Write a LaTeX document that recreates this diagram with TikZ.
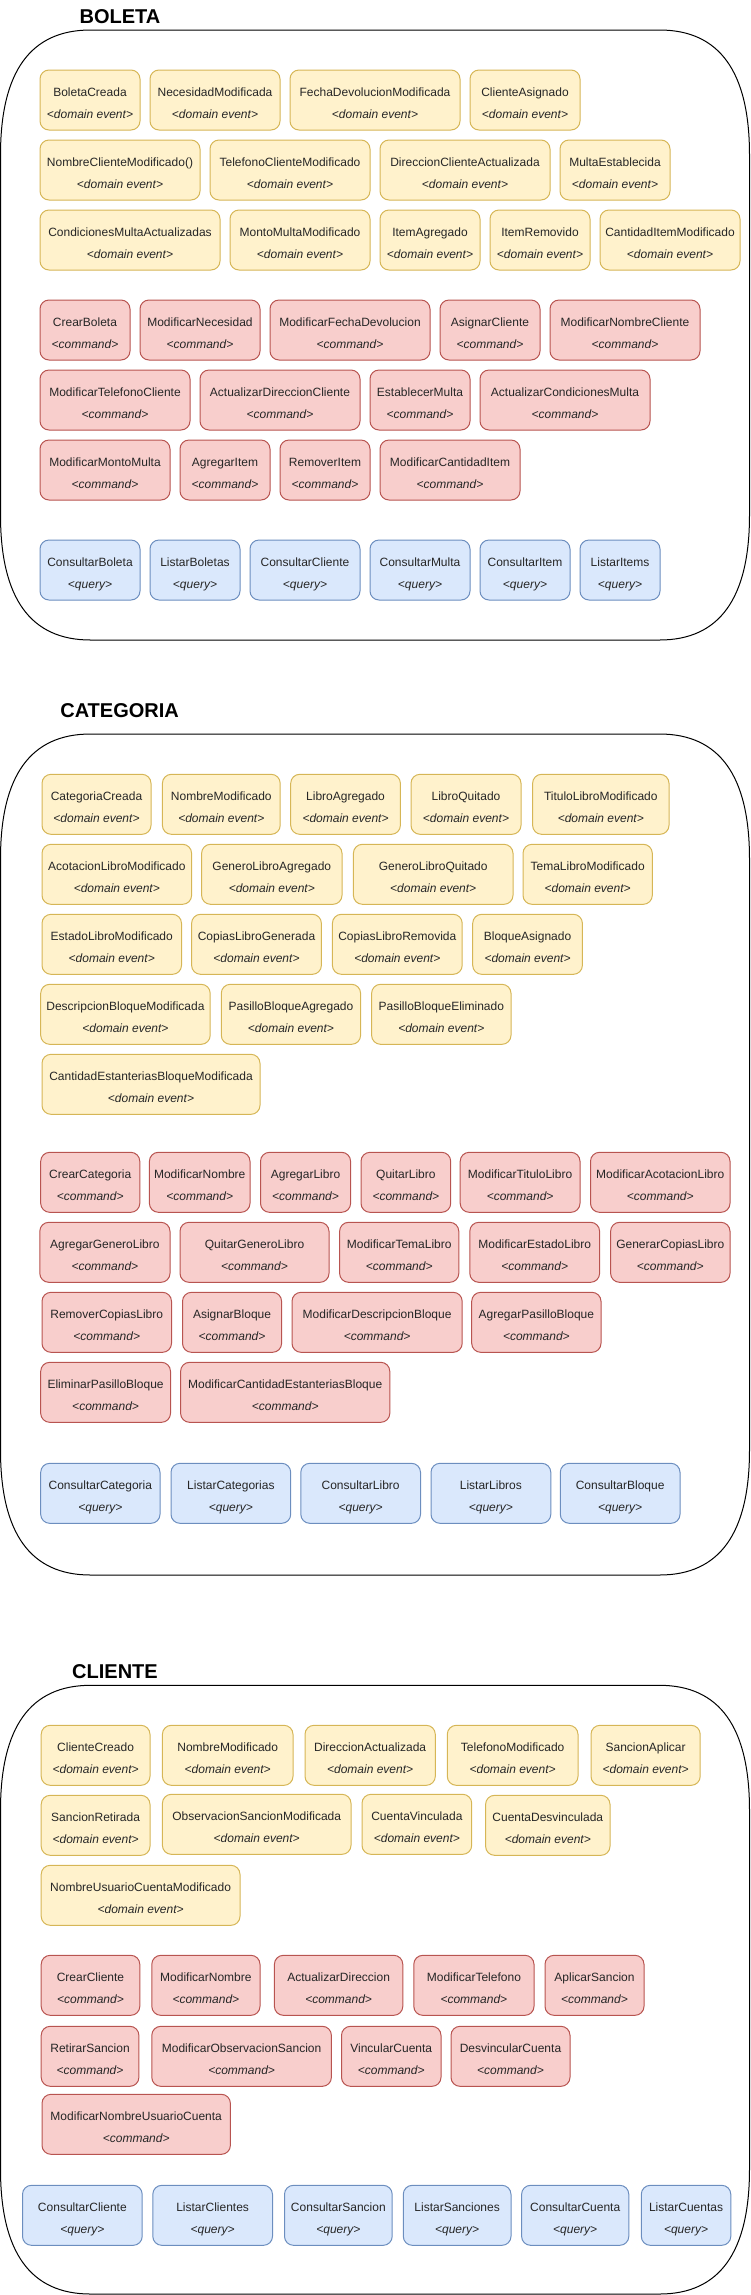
\documentclass[tikz,border=0pt]{standalone}
\usepackage{fontspec}
\setmainfont{Liberation Sans}
\definecolor{evfill}{HTML}{FFF2CC}
\definecolor{evdraw}{HTML}{D6B656}
\definecolor{cmfill}{HTML}{F8CECC}
\definecolor{cmdraw}{HTML}{B85450}
\definecolor{qfill}{HTML}{DAE8FC}
\definecolor{qdraw}{HTML}{6C8EBF}
\tikzset{
  card/.style={rectangle, rounded corners=9pt, line width=1pt, inner sep=0pt, outer sep=0pt,
    minimum height=60pt, font=\fontsize{12}{14}\selectfont, text=black!85},
  evbox/.style={card, fill=evfill, draw=evdraw},
  cmbox/.style={card, fill=cmfill, draw=cmdraw},
  qubox/.style={card, fill=qfill, draw=qdraw},
  title/.style={anchor=base, inner sep=0pt, font=\fontsize{20}{24}\selectfont\bfseries},
  container/.style={draw=black, line width=1pt}
}
% two text lines: baselines 26pt and 48pt below the top of a 60pt card
\newcommand\tb[2]{\vbox to 60pt{\offinterlineskip\vskip 26pt\hbox to 0pt{\hss\smash{#1}\hss}\vskip 22pt\hbox to 0pt{\hss\smash{\itshape #2}\hss}\vfill}}
\newcommand\ev[5]{\node[evbox,minimum width={(#4-#2)*1pt}] (#1) at ({(#2+#4)/2},{#3+30}) {\tb{#5}{<domain event>}};}
\newcommand\cm[5]{\node[cmbox,minimum width={(#4-#2)*1pt}] (#1) at ({(#2+#4)/2},{#3+30}) {\tb{#5}{<command>}};}
\newcommand\qu[5]{\node[qubox,minimum width={(#4-#2)*1pt}] (#1) at ({(#2+#4)/2},{#3+30}) {\tb{#5}{<query>}};}
% container with quadratic-like corners (H horizontal, V vertical)
\newcommand\bigbox[4]{%
  \draw[container] ({#1+90},#2) -- ({#3-90},#2)
    .. controls ({#3-30},#2) and (#3,{#2+41.7}) .. (#3,{#2+125})
    -- (#3,{#4-125})
    .. controls (#3,{#4-41.7}) and ({#3-30},#4) .. ({#3-90},#4)
    -- ({#1+90},#4)
    .. controls ({#1+30},#4) and (#1,{#4-41.7}) .. (#1,{#4-125})
    -- (#1,{#2+125})
    .. controls (#1,{#2+41.7}) and ({#1+30},#2) .. cycle;}
\begin{document}
\begin{tikzpicture}[x=1pt,y=-1pt]
\useasboundingbox (0,0) rectangle (751,2295);

% ================= BOLETA =================
\node[title] (tBoleta) at (120,23.3) {BOLETA};
\bigbox{0.5}{30}{749.5}{640}
\ev{bBoletaCreada}{40}{70}{140}{BoletaCreada}
\ev{bNecesidadModificada}{150}{70}{280}{NecesidadModificada}
\ev{bFechaDevolucionModificada}{290}{70}{460}{FechaDevolucionModificada}
\ev{bClienteAsignado}{470}{70}{580}{ClienteAsignado}
\ev{bNombreClienteModificado}{40}{140}{200}{NombreClienteModificado()}
\ev{bTelefonoClienteModificado}{210}{140}{370}{TelefonoClienteModificado}
\ev{bDireccionClienteActualizada}{380}{140}{550}{DireccionClienteActualizada}
\ev{bMultaEstablecida}{560}{140}{670}{MultaEstablecida}
\ev{bCondicionesMultaActualizadas}{40}{210}{220}{CondicionesMultaActualizadas}
\ev{bMontoMultaModificado}{230}{210}{370}{MontoMultaModificado}
\ev{bItemAgregado}{380}{210}{480}{ItemAgregado}
\ev{bItemRemovido}{490}{210}{590}{ItemRemovido}
\ev{bCantidadItemModificado}{600}{210}{740}{CantidadItemModificado}

\cm{bCrearBoleta}{40}{300}{130}{CrearBoleta}
\cm{bModificarNecesidad}{140}{300}{260}{ModificarNecesidad}
\cm{bModificarFechaDevolucion}{270}{300}{430}{ModificarFechaDevolucion}
\cm{bAsignarCliente}{440}{300}{540}{AsignarCliente}
\cm{bModificarNombreCliente}{550}{300}{700}{ModificarNombreCliente}
\cm{bModificarTelefonoCliente}{40}{370}{190}{ModificarTelefonoCliente}
\cm{bActualizarDireccionCliente}{200}{370}{360}{ActualizarDireccionCliente}
\cm{bEstablecerMulta}{370}{370}{470}{EstablecerMulta}
\cm{bActualizarCondicionesMulta}{480}{370}{650}{ActualizarCondicionesMulta}
\cm{bModificarMontoMulta}{40}{440}{170}{ModificarMontoMulta}
\cm{bAgregarItem}{180}{440}{270}{AgregarItem}
\cm{bRemoverItem}{280}{440}{370}{RemoverItem}
\cm{bModificarCantidadItem}{380}{440}{520}{ModificarCantidadItem}

\qu{bConsultarBoleta}{40}{540}{140}{ConsultarBoleta}
\qu{bListarBoletas}{150}{540}{240}{ListarBoletas}
\qu{bConsultarCliente}{250}{540}{360}{ConsultarCliente}
\qu{bConsultarMulta}{370}{540}{470}{ConsultarMulta}
\qu{bConsultarItem}{480}{540}{570}{ConsultarItem}
\qu{bListarItems}{580}{540}{660}{ListarItems}

% ================= CATEGORIA =================
\node[title] (tCategoria) at (119.6,717.3) {CATEGORIA};
\bigbox{0.5}{734}{749.5}{1575}
\ev{cCategoriaCreada}{42}{774.3}{151}{CategoriaCreada}
\ev{cNombreModificado}{162.4}{774.3}{280.2}{NombreModificado}
\ev{cLibroAgregado}{290.7}{774.3}{400.4}{LibroAgregado}
\ev{cLibroQuitado}{411}{774.3}{521}{LibroQuitado}
\ev{cTituloLibroModificado}{532.6}{774.3}{669}{TituloLibroModificado}
\ev{cAcotacionLibroModificado}{42}{844.3}{191.6}{AcotacionLibroModificado}
\ev{cGeneroLibroAgregado}{201.6}{844.3}{342}{GeneroLibroAgregado}
\ev{cGeneroLibroQuitado}{353.4}{844.3}{513}{GeneroLibroQuitado}
\ev{cTemaLibroModificado}{523}{844.3}{652.3}{TemaLibroModificado}
\ev{cEstadoLibroModificado}{42}{914.3}{181.5}{EstadoLibroModificado}
\ev{cCopiasLibroGenerada}{191.6}{914.3}{321.4}{CopiasLibroGenerada}
\ev{cCopiasLibroRemovida}{332.4}{914.3}{462.2}{CopiasLibroRemovida}
\ev{cBloqueAsignado}{472.7}{914.3}{582.4}{BloqueAsignado}
\ev{cDescripcionBloqueModificada}{40.7}{984.3}{210.2}{DescripcionBloqueModificada}
\ev{cPasilloBloqueAgregado}{221.3}{984.3}{360.6}{PasilloBloqueAgregado}
\ev{cPasilloBloqueEliminado}{371.6}{984.3}{511}{PasilloBloqueEliminado}
\ev{cCantidadEstanteriasBloqueModificada}{42}{1054.3}{260}{CantidadEstanteriasBloqueModificada}

\cm{cCrearCategoria}{40.7}{1152.3}{139.8}{CrearCategoria}
\cm{cModificarNombre}{149.4}{1152.3}{250}{ModificarNombre}
\cm{cAgregarLibro}{260.5}{1152.3}{350.6}{AgregarLibro}
\cm{cQuitarLibro}{361}{1152.3}{450.7}{QuitarLibro}
\cm{cModificarTituloLibro}{460.2}{1152.3}{580}{ModificarTituloLibro}
\cm{cModificarAcotacionLibro}{590.5}{1152.3}{730}{ModificarAcotacionLibro}
\cm{cAgregarGeneroLibro}{39.8}{1222.3}{170}{AgregarGeneroLibro}
\cm{cQuitarGeneroLibro}{180}{1222.3}{329}{QuitarGeneroLibro}
\cm{cModificarTemaLibro}{339.6}{1222.3}{458.8}{ModificarTemaLibro}
\cm{cModificarEstadoLibro}{469.8}{1222.3}{599.6}{ModificarEstadoLibro}
\cm{cGenerarCopiasLibro}{610.6}{1222.3}{730}{GenerarCopiasLibro}
\cm{cRemoverCopiasLibro}{42}{1292.3}{171.5}{RemoverCopiasLibro}
\cm{cAsignarBloque}{182.5}{1292.3}{281.6}{AsignarBloque}
\cm{cModificarDescripcionBloque}{292}{1292.3}{462.2}{ModificarDescripcionBloque}
\cm{cAgregarPasilloBloque}{471.7}{1292.3}{601}{AgregarPasilloBloque}
\cm{cEliminarPasilloBloque}{40.7}{1362.3}{170.5}{EliminarPasilloBloque}
\cm{cModificarCantidadEstanteriasBloque}{180.6}{1362.3}{389.8}{ModificarCantidadEstanteriasBloque}

\qu{cConsultarCategoria}{40.7}{1463.3}{160}{ConsultarCategoria}
\qu{cListarCategorias}{171}{1463.3}{290.7}{ListarCategorias}
\qu{cConsultarLibro}{300.8}{1463.3}{420.5}{ConsultarLibro}
\qu{cListarLibros}{431}{1463.3}{550.8}{ListarLibros}
\qu{cConsultarBloque}{560.3}{1463.3}{680}{ConsultarBloque}

% ================= CLIENTE =================
\node[title] (tCliente) at (115,1678.3) {CLIENTE};
\bigbox{0.5}{1685.3}{749.5}{2294}
\ev{kClienteCreado}{41.2}{1725.3}{150}{ClienteCreado}
\ev{kNombreModificado}{162.4}{1725.3}{293}{NombreModificado}
\ev{kDireccionActualizada}{305}{1725.3}{435.3}{DireccionActualizada}
\ev{kTelefonoModificado}{447.3}{1725.3}{578}{TelefonoModificado}
\ev{kSancionAplicar}{591}{1725.3}{700.2}{SancionAplicar}
\ev{kSancionRetirada}{41.2}{1795.3}{150}{SancionRetirada}
\ev{kObservacionSancionModificada}{162.4}{1794.3}{351}{ObservacionSancionModificada}
\ev{kCuentaVinculada}{362}{1794.3}{471.7}{CuentaVinculada}
\ev{kCuentaDesvinculada}{485.6}{1795.3}{610}{CuentaDesvinculada}
\ev{kNombreUsuarioCuentaModificado}{41.2}{1865.3}{240}{NombreUsuarioCuentaModificado}

\cm{kCrearCliente}{41.2}{1955.3}{139.8}{CrearCliente}
\cm{kModificarNombre}{151.8}{1955.3}{260}{ModificarNombre}
\cm{kActualizarDireccion}{274.4}{1955.3}{402.8}{ActualizarDireccion}
\cm{kModificarTelefono}{413.8}{1955.3}{534}{ModificarTelefono}
\cm{kAplicarSancion}{545}{1955.3}{644}{AplicarSancion}
\cm{kRetirarSancion}{41.2}{2026.3}{138.9}{RetirarSancion}
\cm{kModificarObservacionSancion}{151.8}{2026.3}{331.4}{ModificarObservacionSancion}
\cm{kVincularCuenta}{341.5}{2026.3}{441}{VincularCuenta}
\cm{kDesvincularCuenta}{451}{2026.3}{570}{DesvincularCuenta}
\cm{kModificarNombreUsuarioCuenta}{42}{2094.3}{230.4}{ModificarNombreUsuarioCuenta}

\qu{kConsultarCliente}{22.5}{2185.3}{142.2}{ConsultarCliente}
\qu{kListarClientes}{152.8}{2185.3}{272.5}{ListarClientes}
\qu{kConsultarSancion}{284.5}{2185.3}{392.2}{ConsultarSancion}
\qu{kListarSanciones}{403.3}{2185.3}{511}{ListarSanciones}
\qu{kConsultarCuenta}{521.6}{2185.3}{628.8}{ConsultarCuenta}
\qu{kListarCuentas}{641.3}{2185.3}{730.8}{ListarCuentas}
\end{tikzpicture}
\end{document}
